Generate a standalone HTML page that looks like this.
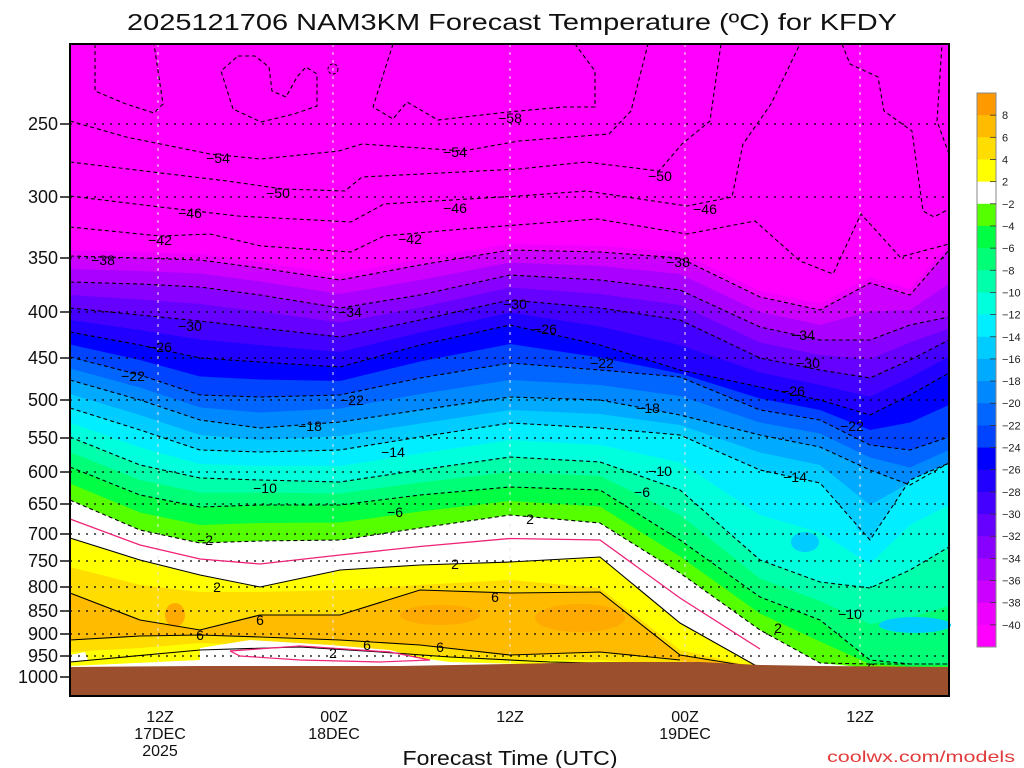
<!DOCTYPE html>
<html><head><meta charset="utf-8"><style>
html,body{margin:0;padding:0;background:#fff;}
svg{display:block;font-family:"Liberation Sans",sans-serif;}
</style></head><body>
<svg id="s" width="1024" height="768" viewBox="0 0 1024 768" xmlns="http://www.w3.org/2000/svg">
<rect width="1024" height="768" fill="#fff"/>
<g id="plot"></g>
<g id="over"></g>
<text x="512" y="30" font-size="23" text-anchor="middle" textLength="770" lengthAdjust="spacingAndGlyphs" fill="#111">2025121706 NAM3KM Forecast Temperature (ºC) for KFDY</text>
<text x="510" y="765" font-size="20" text-anchor="middle" textLength="215" lengthAdjust="spacingAndGlyphs" fill="#111">Forecast Time (UTC)</text>
<text x="1015" y="762" font-size="16" text-anchor="end" textLength="188" lengthAdjust="spacingAndGlyphs" fill="#e23a3a">coolwx.com/models</text>
<g font-size="16" fill="#111" text-anchor="middle">
<text x="160" y="722">12Z</text><text x="160" y="739">17DEC</text><text x="160" y="756">2025</text>
<text x="334" y="722">00Z</text><text x="334" y="739">18DEC</text>
<text x="510" y="722">12Z</text>
<text x="685" y="722">00Z</text><text x="685" y="739">19DEC</text>
<text x="860" y="722">12Z</text>
</g>
<g id="ylab" font-size="18" fill="#111" text-anchor="end"></g>
<g id="cbar"></g>
</svg>
<script>
var NS="http://www.w3.org/2000/svg";
function el(t,a,p){var e=document.createElementNS(NS,t);for(var k in a)e.setAttribute(k,a[k]);(p||document.getElementById('plot')).appendChild(e);return e;}
var X=[70,140,200,260,340,420,510,600,680,760,820,870,910,949];
var G=668;
function full(a){while(a.length<X.length)a.push(G);return a.map(function(v){return Math.min(v,G);});}
var C={};
C[-38]=[256,258,260,268,280,265,250,252,258,297,310,283,295,250];
C[-34]=[282,284,287,295,308,295,275,280,290,327,340,340,325,317];
C[-30]=[308,315,321,328,337,320,300,308,320,358,370,378,360,340];
C[-26]=[332,345,358,362,367,345,325,345,370,387,400,415,395,373];
C[-22]=[357,375,395,397,395,378,363,370,377,410,420,445,450,437];
C[-18]=[380,400,420,428,422,410,397,400,415,435,447,470,485,463];
C[-14]=[408,430,450,452,450,437,423,428,435,470,483,540,480,463];
C[-10]=[437,465,478,480,482,470,457,462,490,560,582,588,570,547];
C[-6]=[467,495,507,505,505,495,487,490,540,597,620,660,665,665];
C[-2]=[500,530,543,541,540,528,515,523,573,630,663,668,668,668];
C[2]=full([538,560,575,587,570,565,562,557,623,668]);
C[4]=full([567,585,592,592,590,585,580,588,650,668]);
C[6]=full([593,620,630,615,615,590,593,592,655,668]);
function avg(a,b){return a.map(function(v,i){return (v+b[i])/2;});}
C[-40]=C[-38].map(function(v){return v-6;});
[-36,-32,-28,-24,-20,-16,-12,-8,-4].forEach(function(t){C[t]=avg(C[t-2],C[t+2]);});
C[0]=avg(C[-2],C[2]);
var col={'-40':'#ee00ff','-38':'#cc00ff','-36':'#aa00ff','-34':'#8800ff','-32':'#6600ff','-30':'#4400ff','-28':'#2200ff','-26':'#0000ff','-24':'#0044ff','-22':'#0066ff','-20':'#0088ff','-18':'#00aaff','-16':'#00ccff','-14':'#00eeff','-12':'#00ffdd','-10':'#00ffaa','-8':'#00ff77','-6':'#00ff44','-4':'#55ff00','-2':'#ffffff','2':'#ffff00','4':'#ffdd00','6':'#ffbb00'};
function pts(a,xs){xs=xs||X;return a.map(function(v,i){return xs[i]+','+v;}).join(' ');}
el('rect',{x:70,y:44,width:879,height:652,fill:'#ff00ff'});
var order=[-40,-38,-36,-34,-32,-30,-28,-26,-24,-22,-20,-18,-16,-14,-12,-10,-8,-6,-4,-2,2,4,6];
order.forEach(function(t){el('polygon',{points:pts(C[t])+' 949,696 70,696',fill:col[t]});});
// orange patches
el('ellipse',{cx:175,cy:615,rx:10,ry:12,fill:'#ffaa00'});
el('ellipse',{cx:440,cy:615,rx:40,ry:10,fill:'#ffaa00'});
el('ellipse',{cx:580,cy:618,rx:45,ry:14,fill:'#ffaa00'});
// lower warm layers
var LX=[70,140,200,260,340,420,510,600,680,700];
var L6=[640,636,635,637,640,645,655,652,660,668];
var L4=[652,648,643,645,650,655,660,660,666,668];
el('polygon',{points:pts(L6,LX)+' 700,696 70,696',fill:'#ffdd00'});
el('polygon',{points:pts(L4,LX)+' 700,696 70,696',fill:'#ffff00'});
el('polygon',{points:'70,655 85,652 88,660 70,662',fill:'#fff'});
el('polygon',{points:'70,666 200,660 200,648 250,640 330,645 390,650 420,658 450,662 520,664 600,662 700,664 700,696 70,696',fill:'#fff'});
// blue blobs right
el('ellipse',{cx:805,cy:542,rx:14,ry:10,fill:'#00ccff'});
el('ellipse',{cx:915,cy:625,rx:36,ry:8,fill:'#00ccff'});
el('ellipse',{cx:860,cy:525,rx:4,ry:6,fill:'#00ccff'});
// pressure grid
var P=[[250,124],[300,197],[350,258],[400,312],[450,358],[500,400],[550,438],[600,472],[650,504],[700,534],[750,561],[800,587],[850,611],[900,634],[950,656],[1000,677]];
P.forEach(function(p){el('line',{x1:70,x2:949,y1:p[1],y2:p[1],stroke:'#000','stroke-width':1.2,'stroke-dasharray':'2,6'});
 var t=el('text',{x:58,y:p[1]+6},document.getElementById('ylab'));t.textContent=p[0];
 el('line',{x1:60,x2:70,y1:p[1],y2:p[1],stroke:'#111','stroke-width':1.5},document.getElementById('ylab'));});
[158,333,510,685,860].forEach(function(x){el('line',{x1:x,x2:x,y1:44,y2:696,stroke:'#e8e8e8','stroke-width':1,'stroke-dasharray':'3,5'});});
// contour lines
function pl(a,xs,dash,color,w){var o={points:pts(a,xs),fill:'none',stroke:color||'#000','stroke-width':w||1.1};if(dash)o['stroke-dasharray']='4,3';el('polyline',o);}
[-38,-34,-30,-26,-22,-18,-14,-10,-6,-2].forEach(function(t){pl(C[t].map(function(v){return Math.min(v,664);}),X,true);});
pl(C[0].slice(0,10),X.slice(0,10),false,'#ee2277',1.3);
pl(C[2].slice(0,10),X.slice(0,10),false);
pl(C[6].slice(0,10),X.slice(0,10),false);
pl(L6.slice(0,9),LX.slice(0,9),false);
pl([662,650,647,652,657,662,664],[70,200,300,380,450,550,640],false);
el('polyline',{points:'230,651 300,646 390,652 430,660 380,662 300,660 240,656 230,651',fill:'none',stroke:'#ee2277','stroke-width':1.2});
// upper lines
function up(s){el('polyline',{points:s,fill:'none',stroke:'#000','stroke-width':1.1,'stroke-dasharray':'4,3'});}
up('70,227 160,236 210,234 261,246 351,252 384,236 463,229 597,219 687,234 755,221 800,261 833,274 861,214 900,257 949,244');
up('70,196 160,207 238,216 351,222 384,204 519,196 586,191 687,206 732,197 743,144 771,104 800,44');
up('70,162 227,181 283,189 345,191 362,177 519,169 586,162 659,171 682,144 710,121 721,44');
up('70,121 126,137 210,154 261,159 339,151 362,144 463,151 519,141 609,134 631,111 648,44');
up('393,44 373,107 393,119 407,102 438,120 508,112 564,107 595,107 595,71 575,44');
up('95,44 95,91 126,104 154,113 163,104 154,44');
up('238,56 255,56 269,67 272,91 286,97 297,77 306,67 317,74 317,106 294,114 261,122 233,109 221,71 238,56');
el('circle',{cx:333,cy:69,r:5,fill:'none',stroke:'#000','stroke-width':1,'stroke-dasharray':'3,2'});
up('842,44 850,64 878,77 884,111 912,131 923,211 934,217 949,209');
up('949,154 937,121 942,44');
// labels
var labs=[[-38,103,260],[-42,160,240],[-46,190,213],[-50,278,193],[-54,218,158],[-58,510,118],[-54,455,152],[-50,660,176],[-46,455,208],[-46,705,209],[-42,410,239],[-34,350,312],[-30,190,326],[-26,160,347],[-22,133,376],[-22,352,400],[-18,310,426],[-14,393,452],[-10,265,488],[-6,395,512],[-2,205,540],[2,217,587],[2,455,564],[2,530,519],[6,260,620],[6,200,635],[6,440,677-30],[6,495,597],[-30,515,304],[-26,545,329],[-22,602,363],[-18,648,408],[-38,678,262],[-34,803,335],[-30,808,363],[-26,793,391],[-22,852,426],[-14,795,477],[-10,660,471],[-6,642,492],[2,778,628],[-10,850,614],[-6,867,668],[2,333,653],[6,367,645]];
labs.forEach(function(l){var s=(l[0]<0?'\u2212':'')+Math.abs(l[0]);var w=s.length*7+2;
 el('rect',{x:l[1]-w/2,y:l[2]-8,width:w,height:14,fill:'none'});
 var t=el('text',{x:l[1],y:l[2]+5,'font-size':14,'text-anchor':'middle',fill:'#000'});t.textContent=s;});
// ground
el('polygon',{points:'70,667 200,666 400,666 510,664 600,662 700,662 760,665 820,666 949,667 949,696 70,696',fill:'#9b4f2c'});
el('rect',{x:70,y:44,width:879,height:652,fill:'none',stroke:'#000','stroke-width':2});
// colorbar
var cb=document.getElementById('cbar');
var cc=['#ff9900','#ffbb00','#ffdd00','#ffff00','#ffffff','#55ff00','#00ff44','#00ff77','#00ffaa','#00ffdd','#00eeff','#00ccff','#00aaff','#0088ff','#0066ff','#0044ff','#0000ff','#2200ff','#4400ff','#6600ff','#8800ff','#aa00ff','#cc00ff','#ee00ff','#ff00ff'];
var cl=['8','6','4','2','\u22122','\u22124','\u22126','\u22128','\u221210','\u221212','\u221214','\u221216','\u221218','\u221220','\u221222','\u221224','\u221226','\u221228','\u221230','\u221232','\u221234','\u221236','\u221238','\u221240'];
var h=554/25;
cc.forEach(function(c,i){el('rect',{x:977,y:93+i*h,width:19,height:h+0.5,fill:c},cb);});
el('rect',{x:977,y:93,width:19,height:554,fill:'none',stroke:'#888','stroke-width':1},cb);
cl.forEach(function(s,i){var y=93+(i+1)*h;el('line',{x1:990,x2:996,y1:y,y2:y,stroke:'#333','stroke-width':0.8},cb);
 var t=el('text',{x:1002,y:y+4,'font-size':11,fill:'#222'},cb);t.textContent=s;});
</script>
</body></html>
